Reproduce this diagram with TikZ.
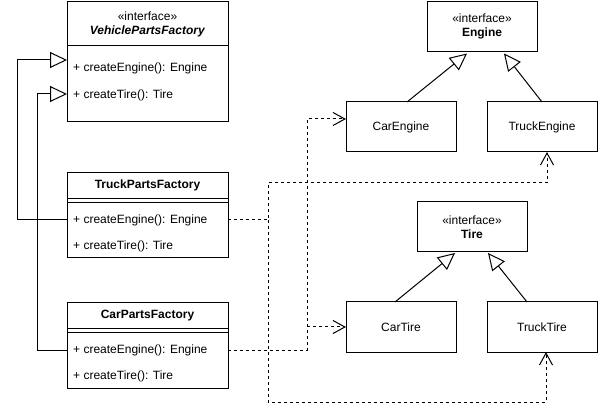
\documentclass[tikz,border=0pt]{standalone}
\usepackage{fontspec}
\setmainfont{Liberation Sans}
\usetikzlibrary{calc,positioning,arrows.meta}

\begin{document}
\begin{tikzpicture}[x=1pt,y=-1pt,
                        font=\fontsize{12}{14}\selectfont,
                        box/.style={draw,line width=1pt,inner sep=0pt,outer sep=0pt,
                        minimum width=110pt,minimum height=50pt,align=center},
                        classpart/.style={draw,line width=1pt,inner sep=0pt,outer sep=0pt,
                        minimum width=161pt,align=center},
                        method/.style={anchor=west,inner sep=0pt},
                        inherit/.style={line width=1pt,-{Triangle[open,length=17pt,width=16pt]}},
                        depend/.style={line width=1pt,dash pattern=on 3pt off 3pt,
                        -{Straight Barb[length=12pt,width=13pt]}}
                        ]
                        \useasboundingbox (0,0) rectangle (598,417);
                        % abstract factory
                        \node[classpart,minimum height=44pt] (vpf) at (147.5,24) {«interface»\\\textbf{\textit{VehiclePartsFactory}}};
                        \node[classpart,minimum height=76pt,below=0pt of vpf] (vpfbody) {};
                        \node[method] (vpfm1) at (73,68) {+ createEngine(): Engine};
                        \node[method] (vpfm2) at (73,95) {+ createTire(): Tire};

                        % concrete factories
                        \node[classpart,minimum height=26pt] (tpf) at (147.5,185.5) {\textbf{TruckPartsFactory}};
                        \node[classpart,minimum height=4pt,below=0pt of tpf] (tpfsep) {};
                        \node[classpart,minimum height=55.5pt,below=0pt of tpfsep] (tpfbody) {};
                        \node[method] (tpfm1) at (73,220) {+ createEngine(): Engine};
                        \node[method] (tpfm2) at (73,246) {+ createTire(): Tire};

                        \node[classpart,minimum height=26pt] (cpf) at (147.5,315.5) {\textbf{CarPartsFactory}};
                        \node[classpart,minimum height=4pt,below=0pt of cpf] (cpfsep) {};
                        \node[classpart,minimum height=55.5pt,below=0pt of cpfsep] (cpfbody) {};
                        \node[method] (cpfm1) at (73,350) {+ createEngine(): Engine};
                        \node[method] (cpfm2) at (73,376) {+ createTire(): Tire};

                        % products
                        \node[box] (engine) at (482,26.5) {«interface»\\\textbf{Engine}};
                        \node[box] (carengine) at (401,127) {CarEngine};
                        \node[box,right=31pt of carengine] (truckengine) {TruckEngine};
                        \node[box] (tire) at (472,227) {«interface»\\\textbf{Tire}};
                        \node[box] (cartire) at (401,327) {CarTire};
                        \node[box,right=31pt of cartire] (trucktire) {TruckTire};

                        % factories realize the interface
                        \draw[inherit] (tpfbody.west |- tpfm1) -- ++(-50,0) |- ($(vpfbody.west)+(0,-24)$);
                        \draw[inherit] (cpfbody.west |- cpfm1) -- ++(-30,0) |- ($(vpfbody.west)+(0,10)$);

                        % products realize their interfaces
                        \draw[inherit] ($(carengine.north)+(6,0)$) -- ($(engine.south)+(-15,2)$);
                        \draw[inherit] (truckengine.north) -- ($(engine.south)+(22,2)$);
                        \draw[inherit] ($(cartire.north)+(-6,0)$) -- ($(tire.south)+(-17,1)$);
                        \draw[inherit] ($(trucktire.north)+(-15,0)$) -- ($(tire.south)+(16,1)$);

                        % factories create products
                        \draw[depend] (tpfbody.east |- tpfm1) -- ++(40,0) coordinate (tsplit)
                            |- ($(truckengine.south)+(5,31)$) -- ($(truckengine.south)+(5,0)$);
                        \draw[depend] (tsplit) |- ($(trucktire.south)+(4,50)$) -- ($(trucktire.south)+(4,0)$);
                        \draw[depend] (cpfbody.east |- cpfm1) -- ++(79,0) coordinate (csplit)
                            |- ($(carengine.west)+(0,-8)$);
                        \draw[depend] (csplit |- cartire.west) -- (cartire.west);
                \end{tikzpicture}
\end{document}
